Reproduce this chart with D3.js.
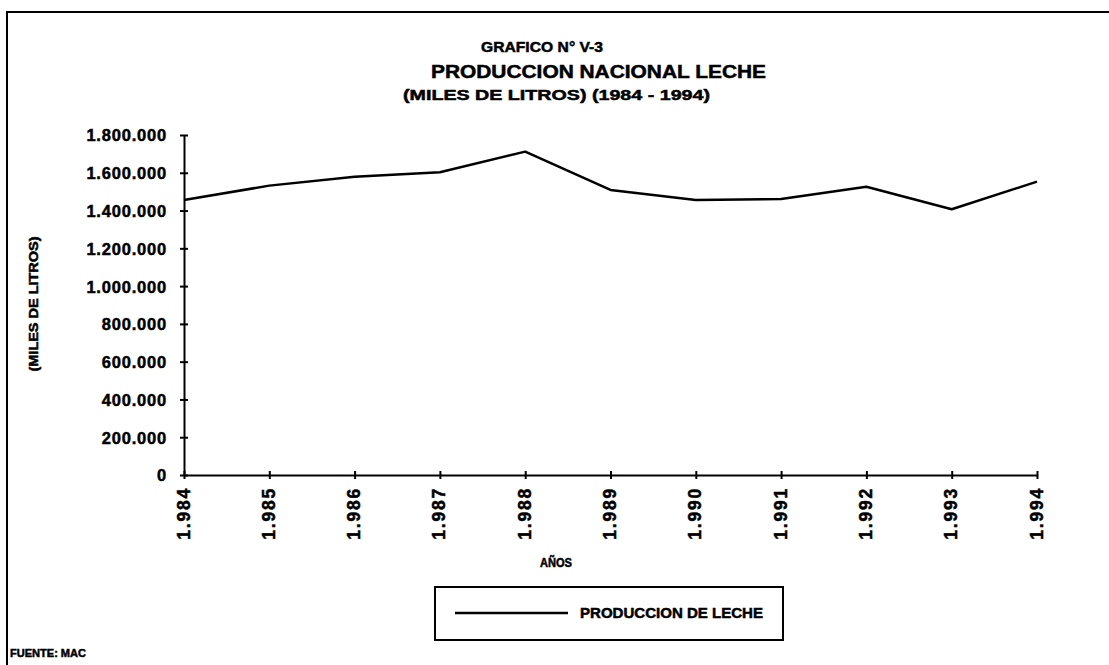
<!DOCTYPE html>
<html>
<head>
<meta charset="utf-8">
<script src="https://cdn.jsdelivr.net/npm/d3@7"></script>
<style>
  body { margin: 0; background: #fff; }
  svg { display: block; font-family: 'Liberation Sans', Arial, sans-serif; font-weight: bold; }
  svg text { fill: #000; stroke: #000; stroke-width: 0.5; }
  .axis path, .axis line { stroke: #000; stroke-width: 2; }
  .axis text { font-family: 'Liberation Sans', Arial, sans-serif; font-weight: bold; }
</style>
</head>
<body>
<svg id="chart" width="1109" height="665"></svg>
<script>
// values (miles de litros)
const years = [1984, 1985, 1986, 1987, 1988, 1989, 1990, 1991, 1992, 1993, 1994];
const production = [1456000, 1532000, 1579000, 1603000, 1712000, 1509000, 1456000, 1461000, 1526000, 1407000, 1553000];
const yTicks = [0, 200000, 400000, 600000, 800000, 1000000, 1200000, 1400000, 1600000, 1800000];

const titles = ['GRAFICO N° V-3', 'PRODUCCION NACIONAL LECHE', '(MILES DE LITROS) (1984 - 1994)'];
const yTitle = '(MILES DE LITROS)';
const xTitle = 'AÑOS';
const seriesName = 'PRODUCCION DE LECHE';
const source = 'FUENTE: MAC';

const plot = { left: 184, right: 1037, top: 135, bottom: 475 };

const svg = d3.select('#chart');

// frame of the printed page
svg.append('path')
  .attr('d', 'M7,665 L7,12 L1109,12')
  .attr('fill', 'none')
  .attr('stroke', '#000')
  .attr('stroke-width', 2);

const es = d3.formatLocale({ decimal: ',', thousands: '.', grouping: [3], currency: ['', ''] });
const fmt = es.format(',');

const xScale = d3.scaleLinear()
  .domain([d3.min(years), d3.max(years)])
  .range([plot.left, plot.right]);
const yScale = d3.scaleLinear()
  .domain([0, 1800000])
  .range([plot.bottom, plot.top]);

// y axis
const gY = svg.append('g')
  .attr('class', 'axis axis--y')
  .attr('transform', `translate(${plot.left},0)`)
  .call(d3.axisLeft(yScale).tickValues(yTicks).tickFormat(fmt).tickSizeInner(4).tickSizeOuter(0));
gY.selectAll('.tick line').attr('x1', 4);
gY.selectAll('.tick text')
  .attr('x', -17)
  .attr('dy', '0.36em')
  .attr('font-size', 16.5)
  .attr('letter-spacing', 0.8);

// x axis, labels turned to read bottom-up
const gX = svg.append('g')
  .attr('class', 'axis axis--x')
  .attr('transform', `translate(0,${plot.bottom})`)
  .call(d3.axisBottom(xScale).tickValues(years).tickFormat(fmt).tickSizeInner(4).tickSizeOuter(0));
gX.selectAll('.tick line').attr('y1', -4);
gX.selectAll('.tick text')
  .attr('transform', 'rotate(-90)')
  .attr('text-anchor', 'end')
  .attr('x', -12)
  .attr('y', 5)
  .attr('dy', 0)
  .attr('font-size', 17.5)
  .attr('letter-spacing', 1.8);

// series
const line = d3.line()
  .x((d, i) => xScale(years[i]))
  .y(d => yScale(d));

svg.append('path')
  .datum(production)
  .attr('fill', 'none')
  .attr('stroke', '#000')
  .attr('stroke-width', 2.5)
  .attr('stroke-linejoin', 'round')
  .attr('d', line);

// titles
const titleSpecs = [
  { x: 481, y: 52, size: 15, len: 122 },
  { x: 431, y: 78, size: 18, len: 335 },
  { x: 403, y: 100, size: 15, len: 307 },
];
titles.forEach((t, i) => {
  const s = titleSpecs[i];
  svg.append('text')
    .attr('x', s.x)
    .attr('y', s.y)
    .attr('font-size', s.size)
    .attr('textLength', s.len)
    .attr('lengthAdjust', 'spacingAndGlyphs')
    .text(t);
});

svg.append('text')
  .attr('transform', 'translate(38,304) rotate(-90)')
  .attr('text-anchor', 'middle')
  .attr('font-size', 12)
  .attr('textLength', 135)
  .attr('lengthAdjust', 'spacingAndGlyphs')
  .text(yTitle);

svg.append('text')
  .attr('x', 556)
  .attr('y', 567)
  .attr('text-anchor', 'middle')
  .attr('font-size', 12)
  .attr('textLength', 32)
  .attr('lengthAdjust', 'spacingAndGlyphs')
  .text(xTitle);

// legend
const legend = svg.append('g');
legend.append('rect')
  .attr('x', 435).attr('y', 587)
  .attr('width', 348).attr('height', 53)
  .attr('fill', 'none')
  .attr('stroke', '#000')
  .attr('stroke-width', 2);
legend.append('line')
  .attr('x1', 455).attr('x2', 568)
  .attr('y1', 613).attr('y2', 613)
  .attr('stroke', '#000')
  .attr('stroke-width', 2.5);
legend.append('text')
  .attr('x', 580).attr('y', 618)
  .attr('font-size', 14.5)
  .attr('textLength', 183)
  .attr('lengthAdjust', 'spacingAndGlyphs')
  .text(seriesName);

svg.append('text')
  .attr('x', 10).attr('y', 657)
  .attr('font-size', 11)
  .attr('textLength', 76)
  .attr('lengthAdjust', 'spacingAndGlyphs')
  .text(source);
</script>
</body>
</html>
